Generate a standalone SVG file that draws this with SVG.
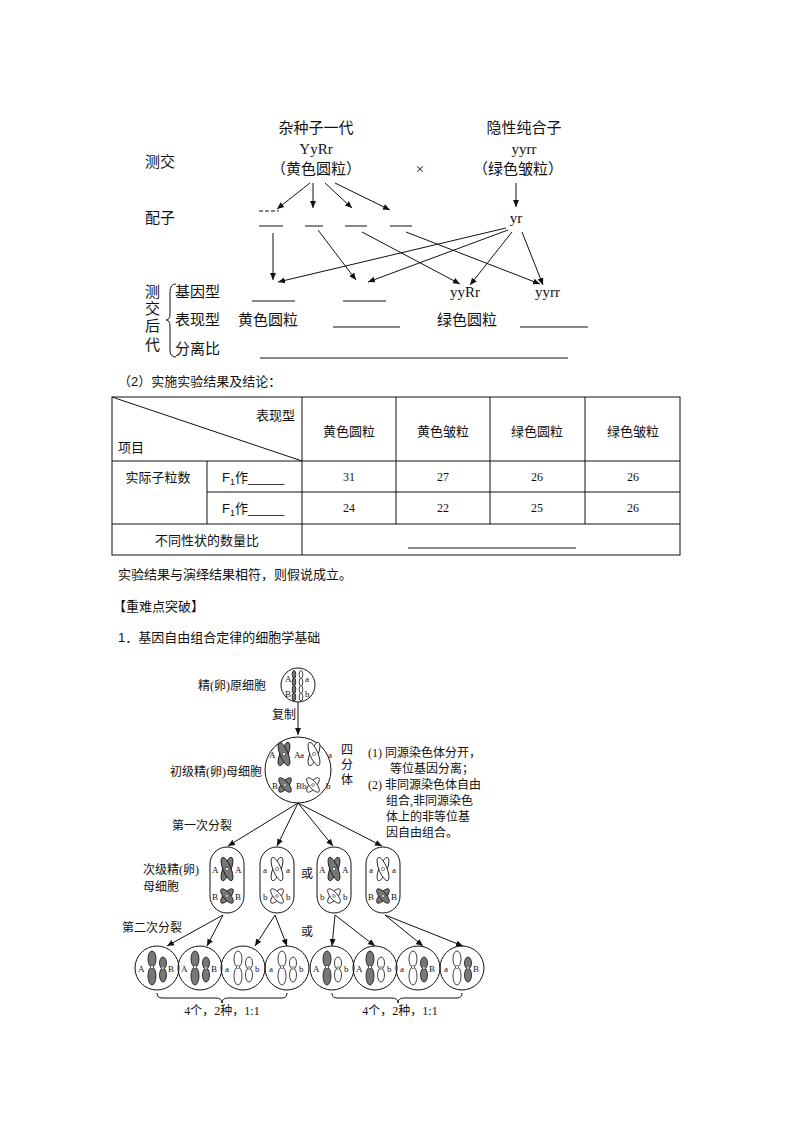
<svg xmlns="http://www.w3.org/2000/svg" xmlns:xlink="http://www.w3.org/1999/xlink" width="794" height="1123" viewBox="0 0 794 1123">
<style>
text{font-family:"Liberation Serif","Noto Sans CJK SC",serif;fill:#111}
.t15{font-size:15px}
.t13{font-size:13px;font-family:"Liberation Sans","Noto Sans CJK SC",sans-serif}
.t12{font-size:12px}
.t9{font-size:9px}
.m{text-anchor:middle}
.e{text-anchor:end}
.ln{stroke:#111;stroke-width:1;fill:none}
.g{fill:#777;stroke:#111;stroke-width:0.8}
.w{fill:#fff;stroke:#111;stroke-width:0.8}
</style>
<defs>
<marker id="ah" markerWidth="8" markerHeight="8" refX="7" refY="4" orient="auto" markerUnits="userSpaceOnUse"><path d="M0,1 L7,4 L0,7 Z" fill="#111"/></marker>
<g id="xg"><ellipse class="g" rx="4" ry="12.5" transform="rotate(22)"/><ellipse class="g" rx="4" ry="12.5" transform="rotate(-22)"/><circle r="1.6" fill="#fff" stroke="#111" stroke-width="0.5"/></g>
<g id="xw"><ellipse class="w" rx="4" ry="12.5" transform="rotate(22)"/><ellipse class="w" rx="4" ry="12.5" transform="rotate(-22)"/><circle r="1.6" fill="#fff" stroke="#111" stroke-width="0.5"/></g>
<g id="xgs"><ellipse class="g" rx="3.5" ry="9" transform="rotate(40)"/><ellipse class="g" rx="3.5" ry="9" transform="rotate(-40)"/><circle r="1.4" fill="#fff" stroke="#111" stroke-width="0.5"/></g>
<g id="xws"><ellipse class="w" rx="3.5" ry="9" transform="rotate(40)"/><ellipse class="w" rx="3.5" ry="9" transform="rotate(-40)"/><circle r="1.4" fill="#fff" stroke="#111" stroke-width="0.5"/></g>
<g id="cgl"><ellipse class="g" cx="0" cy="-8" rx="4" ry="8"/><ellipse class="g" cx="0" cy="9" rx="4" ry="9"/><circle r="1.6" fill="#fff" stroke="#111" stroke-width="0.5"/></g>
<g id="cwl"><ellipse class="w" cx="0" cy="-8" rx="4" ry="8"/><ellipse class="w" cx="0" cy="9" rx="4" ry="9"/><circle r="1.6" fill="#fff" stroke="#111" stroke-width="0.5"/></g>
<g id="cgs"><ellipse class="g" cx="0" cy="-5" rx="3.5" ry="6"/><ellipse class="g" cx="0" cy="7" rx="3.5" ry="7"/><circle r="1.4" fill="#fff" stroke="#111" stroke-width="0.5"/></g>
<g id="cws"><ellipse class="w" cx="0" cy="-5" rx="3.5" ry="6"/><ellipse class="w" cx="0" cy="7" rx="3.5" ry="7"/><circle r="1.4" fill="#fff" stroke="#111" stroke-width="0.5"/></g>
<g id="tg"><ellipse class="g" cx="0" cy="-3.5" rx="1.8" ry="4"/><ellipse class="g" cx="0" cy="4" rx="1.8" ry="4"/></g>
<g id="tw"><ellipse class="w" cx="0" cy="-3.5" rx="1.8" ry="4"/><ellipse class="w" cx="0" cy="4" rx="1.8" ry="4"/></g>
</defs>

<!-- Top cross diagram -->
<g id="p1">
<text class="t15 m" x="316" y="133">杂种子一代</text>
<text class="t15 m" x="316" y="154">YyRr</text>
<text class="t15 m" x="316" y="174">（黄色圆粒）</text>
</g>
<g id="p2">
<text class="t15 m" x="524" y="133">隐性纯合子</text>
<text class="t15 m" x="524" y="154">yyrr</text>
<text class="t15 m" x="518" y="174">（绿色皱粒）</text>
</g>
<text class="t15" x="145" y="167">测交</text>
<text class="t15 m" x="420" y="174">×</text>
<text class="t15" x="145" y="223">配子</text>
<g id="gametes">
<line class="ln" x1="259" y1="211" x2="279" y2="211" stroke-dasharray="4,2"/>
<line class="ln" x1="259" y1="226" x2="283" y2="226"/>
<line class="ln" x1="305" y1="226" x2="323" y2="226"/>
<line class="ln" x1="345" y1="226" x2="367" y2="226"/>
<line class="ln" x1="390" y1="226" x2="412" y2="226"/>
<text class="t15 m" x="516" y="223">yr</text>
</g>
<g id="offspring">
<text class="t15" x="145" y="297">测</text><text class="t15" x="145" y="314">交</text><text class="t15" x="145" y="331">后</text><text class="t15" x="145" y="350">代</text>
<path class="ln" d="M176,284 Q170,284 170,292 L170,314 Q170,320 166,320 Q170,320 170,326 L170,350 Q170,357 176,357"/>
<text class="t15" x="175" y="297">基因型</text>
<text class="t15" x="175" y="325">表现型</text>
<text class="t15" x="175" y="354">分离比</text>
<line class="ln" x1="252" y1="301" x2="295" y2="301"/>
<line class="ln" x1="343" y1="301" x2="386" y2="301"/>
<text class="t15" x="238" y="325">黄色圆粒</text>
<line class="ln" x1="333" y1="327" x2="400" y2="327"/>
<text class="t15" x="437" y="325">绿色圆粒</text>
<line class="ln" x1="520" y1="327" x2="588" y2="327"/>
<text class="t15" x="450" y="297">yyRr</text>
<text class="t15" x="535" y="297">yyrr</text>
<line class="ln" x1="260" y1="358" x2="568" y2="358"/>
</g>
<g id="connectors-top">
<line class="ln" x1="310" y1="183" x2="277" y2="209" marker-end="url(#ah)"/>
<line class="ln" x1="313" y1="183" x2="313" y2="208" marker-end="url(#ah)"/>
<line class="ln" x1="325" y1="183" x2="352" y2="208" marker-end="url(#ah)"/>
<line class="ln" x1="335" y1="183" x2="390" y2="210" marker-end="url(#ah)"/>
<line class="ln" x1="516" y1="183" x2="516" y2="207" marker-end="url(#ah)"/>
<line class="ln" x1="273" y1="233" x2="273" y2="280" marker-end="url(#ah)"/>
<line class="ln" x1="318" y1="230" x2="356" y2="280" marker-end="url(#ah)"/>
<line class="ln" x1="362" y1="232" x2="460" y2="284" marker-end="url(#ah)"/>
<line class="ln" x1="406" y1="232" x2="540" y2="284" marker-end="url(#ah)"/>
<line class="ln" x1="506" y1="228" x2="278" y2="282" marker-end="url(#ah)"/>
<line class="ln" x1="508" y1="230" x2="368" y2="282" marker-end="url(#ah)"/>
<line class="ln" x1="512" y1="232" x2="470" y2="285" marker-end="url(#ah)"/>
<line class="ln" x1="522" y1="232" x2="543" y2="285" marker-end="url(#ah)"/>
</g>

<!-- Table -->
<g id="table">
<text class="t13" x="118" y="386">（2）实施实验结果及结论：</text>
<rect class="ln" x="112" y="397" width="568" height="158"/>
<line class="ln" x1="112" y1="461" x2="680" y2="461"/>
<line class="ln" x1="207" y1="492" x2="680" y2="492"/>
<line class="ln" x1="112" y1="524" x2="680" y2="524"/>
<line class="ln" x1="207" y1="461" x2="207" y2="524"/>
<line class="ln" x1="302" y1="397" x2="302" y2="555"/>
<line class="ln" x1="396" y1="397" x2="396" y2="524"/>
<line class="ln" x1="490" y1="397" x2="490" y2="524"/>
<line class="ln" x1="585" y1="397" x2="585" y2="524"/>
<line class="ln" x1="112" y1="397" x2="302" y2="461"/>
<text class="t13 e" x="295" y="420">表现型</text>
<text class="t13" x="118" y="452">项目</text>
<text class="t13 m" x="349" y="436">黄色圆粒</text>
<text class="t13 m" x="443" y="436">黄色皱粒</text>
<text class="t13 m" x="537" y="436">绿色圆粒</text>
<text class="t13 m" x="633" y="436">绿色皱粒</text>
<text class="t13 m" x="158" y="482">实际子粒数</text>
<text class="t13" x="222" y="482">F<tspan font-size="9" dy="3">1</tspan><tspan dy="-3">作_____</tspan></text>
<text class="t13" x="222" y="513">F<tspan font-size="9" dy="3">1</tspan><tspan dy="-3">作_____</tspan></text>
<text class="t12 m" x="349" y="481">31</text><text class="t12 m" x="443" y="481">27</text><text class="t12 m" x="537" y="481">26</text><text class="t12 m" x="633" y="481">26</text>
<text class="t12 m" x="349" y="512">24</text><text class="t12 m" x="443" y="512">22</text><text class="t12 m" x="537" y="512">25</text><text class="t12 m" x="633" y="512">26</text>
<text class="t13 m" x="207" y="545">不同性状的数量比</text>
<line class="ln" x1="408" y1="548" x2="576" y2="548"/>
</g>
<text class="t13" x="118" y="579">实验结果与演绎结果相符，则假说成立。</text>
<text class="t13" x="113" y="611">【重难点突破】</text>
<text class="t13" x="118" y="642">1．基因自由组合定律的细胞学基础</text>

<!-- Cell diagram -->
<g id="cell0">
<circle class="ln" cx="298" cy="685" r="17"/>
<use href="#tg" x="294" y="678"/><use href="#tw" x="301" y="678"/>
<use href="#tg" x="294" y="693"/><use href="#tw" x="301" y="693"/>
<text class="t9" x="285" y="682">A</text><text class="t9" x="305" y="682">a</text>
<text class="t9" x="285" y="697">B</text><text class="t9" x="305" y="697">b</text>
<text class="t12 e" x="266" y="690">精(卵)原细胞</text>
</g>
<text class="t12" x="272" y="719">复制</text>
<g id="cell1">
<circle class="ln" cx="298" cy="770" r="33"/>
<use href="#xg" x="284" y="754"/><use href="#xw" x="314" y="754"/>
<use href="#xgs" x="285" y="785"/><use href="#xws" x="313" y="785"/>
<text class="t9" x="269" y="758">A</text><text class="t9" x="294" y="758">A</text><text class="t9" x="300" y="758">a</text><text class="t9" x="328" y="758">a</text>
<text class="t9" x="272" y="789">B</text><text class="t9" x="296" y="789">Bb</text><text class="t9" x="326" y="789">b</text>
<text class="t12 e" x="262" y="776">初级精(卵)母细胞</text>
<text class="t12" x="341" y="754">四</text><text class="t12" x="341" y="769">分</text><text class="t12" x="341" y="784">体</text>
</g>
<g id="note">
<text class="t12" x="368" y="757">(1) 同源染色体分开，</text>
<text class="t12" x="390" y="773">等位基因分离；</text>
<text class="t12" x="368" y="789">(2) 非同源染色体自由</text>
<text class="t12" x="386" y="805">组合,非同源染色</text>
<text class="t12" x="386" y="821">体上的非等位基</text>
<text class="t12" x="386" y="837">因自由组合。</text>
</g>
<text class="t12" x="172" y="830">第一次分裂</text>
<text class="t12" x="143" y="874">次级精(卵)</text>
<text class="t12" x="143" y="891">母细胞</text>
<text class="t12" x="301" y="878">或</text>
<text class="t12" x="301" y="936">或</text>
<text class="t12" x="122" y="932">第二次分裂</text>

<g id="c2a"><rect class="ln" x="210" y="847" width="34" height="66" rx="17"/><use href="#xg" x="227" y="869"/><use href="#xgs" x="227" y="896"/><text class="t9" x="212" y="873">A</text><text class="t9" x="235" y="873">A</text><text class="t9" x="212" y="900">B</text><text class="t9" x="235" y="900">B</text></g>
<g id="c2b"><rect class="ln" x="260" y="847" width="34" height="66" rx="17"/><use href="#xw" x="277" y="869"/><use href="#xws" x="277" y="896"/><text class="t9" x="263" y="873">a</text><text class="t9" x="286" y="873">a</text><text class="t9" x="263" y="900">b</text><text class="t9" x="286" y="900">b</text></g>
<g id="c2c"><rect class="ln" x="317" y="847" width="34" height="66" rx="17"/><use href="#xg" x="334" y="869"/><use href="#xws" x="334" y="896"/><text class="t9" x="319" y="873">A</text><text class="t9" x="342" y="873">A</text><text class="t9" x="320" y="900">b</text><text class="t9" x="343" y="900">b</text></g>
<g id="c2d"><rect class="ln" x="366" y="847" width="34" height="66" rx="17"/><use href="#xw" x="383" y="869"/><use href="#xgs" x="383" y="896"/><text class="t9" x="369" y="873">a</text><text class="t9" x="392" y="873">a</text><text class="t9" x="368" y="900">B</text><text class="t9" x="391" y="900">B</text></g>

<g id="g1"><circle class="ln" cx="157" cy="968" r="22"/><use href="#cgl" x="152" y="967"/><use href="#cgs" x="163" y="968"/><text class="t9" x="138" y="972">A</text><text class="t9" x="168" y="972">B</text></g>
<g id="g2"><circle class="ln" cx="200" cy="968" r="22"/><use href="#cgl" x="195" y="967"/><use href="#cgs" x="206" y="968"/><text class="t9" x="181" y="972">A</text><text class="t9" x="211" y="972">B</text></g>
<g id="g3"><circle class="ln" cx="243" cy="968" r="22"/><use href="#cwl" x="238" y="967"/><use href="#cws" x="249" y="968"/><text class="t9" x="225" y="972">a</text><text class="t9" x="255" y="972">b</text></g>
<g id="g4"><circle class="ln" cx="287" cy="968" r="22"/><use href="#cwl" x="282" y="967"/><use href="#cws" x="293" y="968"/><text class="t9" x="269" y="972">a</text><text class="t9" x="299" y="972">b</text></g>
<g id="g5"><circle class="ln" cx="332" cy="968" r="22"/><use href="#cgl" x="327" y="967"/><use href="#cws" x="338" y="968"/><text class="t9" x="313" y="972">A</text><text class="t9" x="344" y="972">b</text></g>
<g id="g6"><circle class="ln" cx="375" cy="968" r="22"/><use href="#cgl" x="370" y="967"/><use href="#cws" x="381" y="968"/><text class="t9" x="356" y="972">A</text><text class="t9" x="387" y="972">b</text></g>
<g id="g7"><circle class="ln" cx="418" cy="968" r="22"/><use href="#cwl" x="413" y="967"/><use href="#cgs" x="424" y="968"/><text class="t9" x="400" y="972">a</text><text class="t9" x="429" y="972">B</text></g>
<g id="g8"><circle class="ln" cx="462" cy="968" r="22"/><use href="#cwl" x="457" y="967"/><use href="#cgs" x="468" y="968"/><text class="t9" x="444" y="972">a</text><text class="t9" x="473" y="972">B</text></g>

<g id="braces">
<path class="ln" d="M157,993 Q157,998 162,998 L216,998 Q222,998 222,1003 Q222,998 228,998 L282,998 Q287,998 287,993"/>
<path class="ln" d="M332,993 Q332,998 337,998 L392,998 Q398,998 398,1003 Q398,998 404,998 L457,998 Q462,998 462,993"/>
<text class="t12 m" x="222" y="1015">4个，2种，1:1</text>
<text class="t12 m" x="400" y="1015">4个，2种，1:1</text>
</g>

<g id="connectors-cell">
<line class="ln" x1="298" y1="702" x2="298" y2="735" marker-end="url(#ah)"/>
<line class="ln" x1="298" y1="803" x2="228" y2="846" marker-end="url(#ah)"/>
<line class="ln" x1="298" y1="803" x2="277" y2="846" marker-end="url(#ah)"/>
<line class="ln" x1="298" y1="803" x2="333" y2="846" marker-end="url(#ah)"/>
<line class="ln" x1="298" y1="803" x2="382" y2="846" marker-end="url(#ah)"/>
<line class="ln" x1="223" y1="915" x2="167" y2="946" marker-end="url(#ah)"/>
<line class="ln" x1="223" y1="915" x2="207" y2="946" marker-end="url(#ah)"/>
<line class="ln" x1="275" y1="915" x2="255" y2="946" marker-end="url(#ah)"/>
<line class="ln" x1="275" y1="915" x2="287" y2="946" marker-end="url(#ah)"/>
<line class="ln" x1="335" y1="915" x2="332" y2="946" marker-end="url(#ah)"/>
<line class="ln" x1="335" y1="915" x2="375" y2="946" marker-end="url(#ah)"/>
<line class="ln" x1="385" y1="915" x2="423" y2="946" marker-end="url(#ah)"/>
<line class="ln" x1="385" y1="915" x2="463" y2="946" marker-end="url(#ah)"/>
</g>
</svg>
